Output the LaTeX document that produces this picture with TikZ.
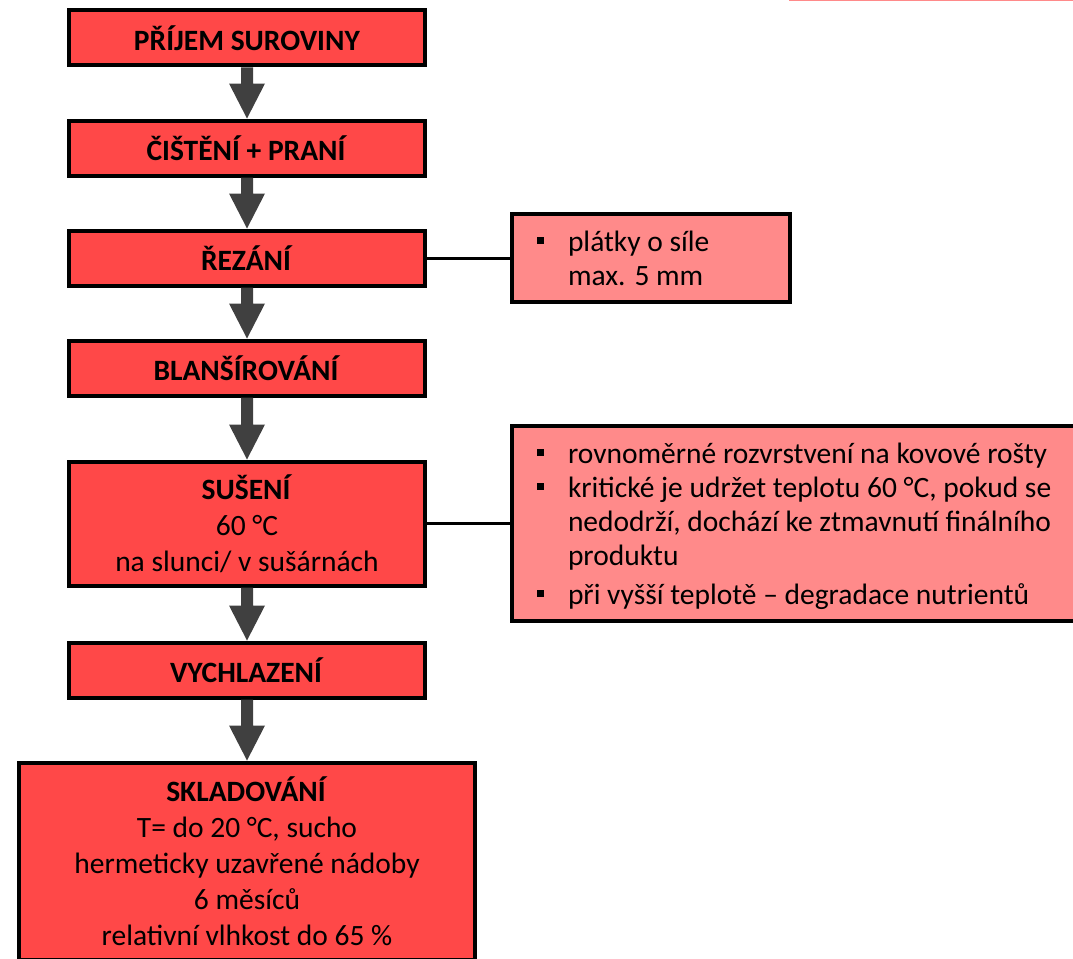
\documentclass[tikz,border=0pt]{standalone}
\usepackage{fontspec}
\usepackage{array}
\setmainfont{Carlito}
\usetikzlibrary{calc}

\definecolor{mainred}{HTML}{FF4848}
\definecolor{sidepink}{HTML}{FF8A8A}
\definecolor{arrowgray}{HTML}{404040}

% square bullet used in the note boxes
\newcommand{\sqbullet}{\raisebox{0.26em}{\rule{7pt}{7pt}}}

% thick block arrow from the bottom of one step to the top of the next
\newcommand{\flowarrow}[2]{%
  \fill[arrowgray] let \p1=(#1.south), \p2=(#2.north) in
    (\x1-6pt,\y1) -- (\x1+6pt,\y1) -- (\x1+6pt,\y2+35pt) -- (\x1+18pt,\y2+35pt)
    -- (\x1,\y2) -- (\x1-18pt,\y2+35pt) -- (\x1-6pt,\y2+35pt) -- cycle;}

\tikzset{
  stepbox/.style={draw=black, line width=4pt, fill=mainred, inner sep=0pt,
    minimum width=356pt, minimum height=55pt, align=center,
    font=\fontsize{29.5pt}{36pt}\selectfont},
  notebox/.style={draw=black, line width=4pt, fill=sidepink, inner xsep=25pt,
    inner ysep=0pt, font=\fontsize{29.5pt}{34pt}\selectfont},
  link/.style={draw=black, line width=3pt}
}

\begin{document}
\begin{tikzpicture}[x=1pt, y=-1pt]
\useasboundingbox (0,0) rectangle (1073,958);
\clip (0,0) rectangle (1073,958);

% edge of a panel above the drawing
\fill[sidepink] (789,-10) rectangle (1073,1.5);

% process steps
\node[stepbox] (s1) at (247,38) {\textbf{PŘÍJEM SUROVINY}};
\node[stepbox] (s2) at (247,148) {\textbf{ČIŠTĚNÍ + PRANÍ}};
\node[stepbox] (s3) at (247,258) {\textbf{ŘEZÁNÍ}};
\node[stepbox] (s4) at (247,368) {\textbf{BLANŠÍROVÁNÍ}};
\node[stepbox, minimum height=124pt] (s5) at (247,523.5)
  {\textbf{SUŠENÍ}\\60 °C\\na slunci/ v sušárnách};
\node[stepbox] (s6) at (247,670) {\textbf{VYCHLAZENÍ}};
\node[stepbox, minimum width=456pt, minimum height=197pt] (s7) at (247,861)
  {\textbf{SKLADOVÁNÍ}\\T= do 20 °C, sucho\\hermeticky uzavřené nádoby\\6 měsíců\\relativní vlhkost do 65 \%};

% notes
\node[notebox, minimum width=278pt, minimum height=88pt] (n1) at (651,258)
  {\parbox{228pt}{\vspace{8pt}%
   \begin{tabular}{@{}p{31pt}@{}p{197pt}@{}}
     \sqbullet & plátky o síle\\
               & max. 5 mm
   \end{tabular}}};
\node[notebox, minimum width=576pt, minimum height=195pt] (n2) at (800,523.5)
  {\parbox{526pt}{\vspace{8pt}%
   \begin{tabular}{@{}p{31pt}@{}p{495pt}@{}}
     \sqbullet & rovnoměrné rozvrstvení na kovové rošty\\
     \sqbullet & kritické je udržet teplotu 60 °C, pokud se\\
               & nedodrží, dochází ke ztmavnutí finálního\\
               & produktu\\[5pt]
     \sqbullet & při vyšší teplotě – degradace nutrientů
   \end{tabular}}};

% flow
\flowarrow{s1}{s2}
\flowarrow{s2}{s3}
\flowarrow{s3}{s4}
\flowarrow{s4}{s5}
\flowarrow{s5}{s6}
\flowarrow{s6}{s7}

\draw[link] (s3.east) -- (n1.west);
\draw[link] (s5.east) -- (n2.west);
\end{tikzpicture}
\end{document}
